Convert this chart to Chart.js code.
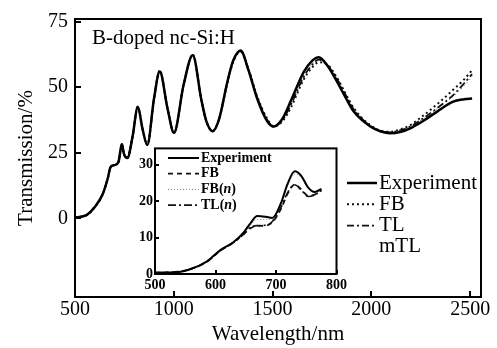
<!DOCTYPE html>
<html>
<head>
<meta charset="utf-8">
<script src="https://cdn.jsdelivr.net/npm/chart.js@4.4.1/dist/chart.umd.min.js"></script>
<style>
  html, body { margin: 0; padding: 0; background: #fff; }
  #wrap { position: relative; width: 497px; height: 348px; font-family: 'Liberation Serif'; }
  #main { position: absolute; left: 0; top: 0; }
  #inset { position: absolute; left: 125px; top: 138px; }
  .probe { position: absolute; left: -999px; top: 0; font-family: 'Liberation Serif'; }
</style>
</head>
<body>
<div id="wrap">
  <span class="probe">Transmission <b>bold</b> <i>n</i></span>
  <canvas id="main" width="497" height="348"></canvas>
  <canvas id="inset" width="225" height="160"></canvas>
</div>
<script>
// Main plot: wavelength (nm) and transmission (%)
const wavelength = [505, 530, 560, 600, 640, 665, 680, 700, 720, 737, 748, 765, 791, 818, 842, 866, 900, 929, 968, 1001,
  1050, 1096, 1140, 1165, 1197, 1230, 1271, 1300, 1338, 1380, 1422, 1473, 1506, 1550, 1591, 1658, 1700, 1734, 1780, 1827,
  1870, 1911, 1995, 2045, 2096, 2150, 2197, 2260, 2333, 2414, 2470, 2510];
const experiment = [0.3, 0.6, 1.3, 4.3, 9.2, 15, 19.5, 20.3, 21.5, 28.3, 24.5, 23, 31, 42.5, 34, 28, 45.7, 56, 42, 32.6,
  51, 62.2, 45, 37, 33.2, 38, 52, 60, 64, 56, 45.7, 37, 35, 38, 44.5, 55.8, 60, 61.4, 58, 52,
  46, 40.7, 35, 33.2, 32.4, 33, 34.3, 37, 40.7, 44.5, 45.4, 45.7];
const fb = [0.3, 0.6, 1.3, 4.3, 9.2, 15, 19.5, 20.3, 21.5, 28.3, 24.5, 23, 31, 42.5, 34, 28, 45.7, 56.5, 42, 32.6,
  51, 62.5, 45, 37, 33.4, 38, 51.5, 59.5, 63.5, 56.5, 46.5, 38, 35, 37, 42, 53, 57.5, 59.5, 58.5, 53.5,
  47.5, 42, 35.5, 33.5, 33, 34, 35.5, 39, 43.5, 49, 53, 56.5];
const tl = [0.3, 0.6, 1.3, 4.3, 9.2, 15, 19.5, 20.3, 21.5, 28.3, 24.5, 23, 31, 42.5, 34, 28, 45.7, 56, 42, 32.6,
  51, 62.2, 45, 37, 33.2, 38, 52, 60, 63.8, 56, 46, 37.5, 35, 37.5, 43, 54, 58.5, 60.5, 58, 53,
  47, 41.5, 35.2, 33.3, 32.8, 33.6, 35, 38, 42, 47, 51.5, 55];
const mtl = [0.3, 0.6, 1.3, 4.3, 9.2, 15, 19.5, 20.3, 21.5, 28.3, 24.5, 23, 31, 42.5, 34, 28, 45.7, 56, 42, 32.6,
  51, 62.2, 45, 37, 33.2, 38, 52, 60, 64, 56, 46, 37.5, 35, 37.5, 43.5, 54.5, 59, 60.8, 58, 52.5,
  46.5, 41.2, 35.1, 33.2, 32.6, 33.4, 34.8, 37.8, 41.8, 46.5, 50.5, 54];
const xTicks = [500, 1000, 1500, 2000, 2500];
const yTicks = [0, 25, 50, 75];

// Inset: short-wavelength region
const insetWavelength = [500, 530, 558, 586, 608, 630, 647, 658, 669, 683, 694, 708, 719, 731, 742, 753, 764, 775];
const insetExperiment = [0.4, 0.4, 1.3, 3.5, 6.6, 8.8, 11.5, 14, 15.9, 15.7, 15.4, 19.4, 24.7, 28.2, 26.9, 23.8, 22.5, 23.4];
const insetFB = [0.3, 0.5, 1.3, 3.4, 6.4, 8.7, 11, 12.6, 13.2, 13.3, 14.2, 17.8, 22, 24.6, 23.2, 21.5, 21.8, 23];
const insetFBn = [0.4, 0.4, 1.3, 3.5, 6.5, 8.8, 11.3, 13.5, 15, 15, 15, 19, 24, 27.5, 26.5, 23.5, 22.4, 23.3];
const insetTLn = [0.3, 0.5, 1.3, 3.4, 6.4, 8.7, 11, 12.8, 13.3, 13.4, 14.4, 18.2, 22.3, 24.5, 23, 21.3, 21.7, 23];
const insetXTicks = [500, 600, 700, 800];
const insetYTicks = [0, 10, 20, 30];

const serif = "'Liberation Serif', 'DejaVu Serif', serif";
const pts = (xs, ys) => xs.map((x, i) => ({ x: x, y: ys[i] }));
const plain = v => String(v);
const noGrid = { display: false, drawTicks: false };

function drawLabel(ctx, text, x, y, font) {
  // "(n)" gets an italic n
  const parts = text.split(/(\(n\))/).filter(s => s);
  let cx = x;
  parts.forEach(p => {
    if (p === '(n)') {
      [['(', ''], ['n', 'italic '], [')', '']].forEach(([s, st]) => {
        ctx.font = st + font;
        ctx.fillText(s, cx, y);
        cx += ctx.measureText(s).width;
      });
    } else {
      ctx.font = font;
      ctx.fillText(p, cx, y);
      cx += ctx.measureText(p).width;
    }
  });
}

const decor = {
  id: 'decor',
  beforeDraw(chart, args, o) {
    const { ctx, chartArea: a } = chart;
    ctx.save();
    ctx.fillStyle = '#fff';
    ctx.fillRect(a.left, a.top, a.right - a.left, a.bottom - a.top);
    ctx.restore();
  },
  afterDraw(chart, args, o) {
    const { ctx, chartArea: a, scales: { x, y } } = chart;
    ctx.save();
    ctx.strokeStyle = '#000';
    ctx.lineWidth = o.frameWidth;
    ctx.strokeRect(a.left, a.top, a.right - a.left, a.bottom - a.top);
    ctx.beginPath();
    x.ticks.forEach(t => {
      const px = Math.round(x.getPixelForValue(t.value));
      ctx.moveTo(px, a.bottom);
      ctx.lineTo(px, a.bottom - o.tickLen);
    });
    y.ticks.forEach(t => {
      const py = Math.round(y.getPixelForValue(t.value));
      ctx.moveTo(a.left, py);
      ctx.lineTo(a.left + o.tickLen, py);
    });
    ctx.stroke();

    ctx.fillStyle = '#000';
    ctx.textBaseline = 'middle';
    ctx.textAlign = 'left';
    (o.notes || []).forEach(n => drawLabel(ctx, n.text, n.x, n.y, o.noteFont));

    const lg = o.legend;
    chart.data.datasets.forEach((ds, i) => {
      const yy = lg.y + i * lg.gap;
      if (!ds.hideSample) {
        ctx.strokeStyle = ds.borderColor;
        ctx.lineWidth = ds.borderWidth;
        ctx.setLineDash(ds.borderDash || []);
        ctx.beginPath();
        ctx.moveTo(lg.x0, yy);
        ctx.lineTo(lg.x1, yy);
        ctx.stroke();
        ctx.setLineDash([]);
      }
      drawLabel(ctx, ds.label, lg.tx, yy, lg.font);
    });
    ctx.restore();
  }
};

function draw() {
  new Chart(document.getElementById('main'), {
    type: 'line',
    data: {
      datasets: [
        { label: 'Experiment', data: pts(wavelength, experiment), borderColor: '#000', borderWidth: 2.5 },
        { label: 'FB', data: pts(wavelength, fb), borderColor: '#111', borderWidth: 2, borderDash: [2, 3] },
        { label: 'TL', data: pts(wavelength, tl), borderColor: '#111', borderWidth: 1.8, borderDash: [7, 3, 2, 3] },
        { label: 'mTL', data: pts(wavelength, mtl), borderColor: '#666', borderWidth: 1, borderDash: [1, 3], hideSample: true }
      ]
    },
    options: {
      responsive: false,
      animation: false,
      layout: { padding: { top: 17, right: 16, left: 0, bottom: 0 } },
      elements: { point: { radius: 0 }, line: { cubicInterpolationMode: 'monotone' } },
      plugins: {
        legend: { display: false },
        tooltip: { enabled: false },
        decor: {
          frameWidth: 2, tickLen: 6,
          noteFont: '21px ' + serif,
          notes: [{ text: 'B-doped nc-Si:H', x: 92, y: 38 }],
          legend: { x0: 347, x1: 377, tx: 379, y: 183, gap: 21.3, font: '21px ' + serif }
        }
      },
      scales: {
        x: {
          type: 'linear', min: 500, max: 2555,
          afterBuildTicks: s => { s.ticks = xTicks.map(v => ({ value: v })); },
          afterFit: s => { s.height = 51; },
          grid: noGrid, border: { display: false },
          ticks: { color: '#000', font: { family: serif, size: 20 }, padding: 1, maxRotation: 0, autoSkip: false, callback: plain },
          title: { display: true, text: 'Wavelength/nm', color: '#000', font: { family: serif, size: 21 }, padding: { top: 0, bottom: 1 } }
        },
        y: {
          min: -30, max: 76,
          afterBuildTicks: s => { s.ticks = yTicks.map(v => ({ value: v })); },
          afterFit: s => { s.width = 75; },
          grid: noGrid, border: { display: false },
          ticks: { color: '#000', font: { family: serif, size: 20 }, padding: 7, autoSkip: false, callback: plain },
          title: { display: true, text: 'Transmission/%', color: '#000', font: { family: serif, size: 21 }, padding: { top: 14, bottom: 0 } }
        }
      }
    },
    plugins: [decor]
  });

  new Chart(document.getElementById('inset'), {
    type: 'line',
    data: {
      datasets: [
        { label: 'Experiment', data: pts(insetWavelength, insetExperiment), borderColor: '#000', borderWidth: 2 },
        { label: 'FB', data: pts(insetWavelength, insetFB), borderColor: '#111', borderWidth: 1.8, borderDash: [5, 4] },
        { label: 'FB(n)', data: pts(insetWavelength, insetFBn), borderColor: '#888', borderWidth: 1, borderDash: [1, 2] },
        { label: 'TL(n)', data: pts(insetWavelength, insetTLn), borderColor: '#111', borderWidth: 1.6, borderDash: [8, 3, 2, 3] }
      ]
    },
    options: {
      responsive: false,
      animation: false,
      layout: { padding: { top: 5, right: 12, left: 0, bottom: 0 } },
      elements: { point: { radius: 0 }, line: { cubicInterpolationMode: 'monotone' } },
      plugins: {
        legend: { display: false },
        tooltip: { enabled: false },
        decor: {
          frameWidth: 2, tickLen: 4,
          legend: { x0: 43, x1: 74, tx: 76, y: 20, gap: 15.7, font: 'bold 14px ' + serif }
        }
      },
      scales: {
        x: {
          type: 'linear', min: 500, max: 800,
          afterBuildTicks: s => { s.ticks = insetXTicks.map(v => ({ value: v })); },
          afterFit: s => { s.height = 24; },
          grid: noGrid, border: { display: false },
          ticks: { color: '#000', font: { family: serif, size: 14, weight: 'bold' }, padding: 3, maxRotation: 0, autoSkip: false, callback: plain }
        },
        y: {
          min: 0, max: 34.5,
          afterBuildTicks: s => { s.ticks = insetYTicks.map(v => ({ value: v })); },
          afterFit: s => { s.width = 30; },
          grid: noGrid, border: { display: false },
          ticks: { color: '#000', font: { family: serif, size: 14, weight: 'bold' }, padding: 2, autoSkip: false, callback: plain }
        }
      }
    },
    plugins: [decor]
  });
}

Promise.all([
  document.fonts.load("20px 'Liberation Serif'"),
  document.fonts.load("bold 14px 'Liberation Serif'"),
  document.fonts.load("italic bold 14px 'Liberation Serif'")
]).then(draw, draw);
</script>
</body>
</html>
